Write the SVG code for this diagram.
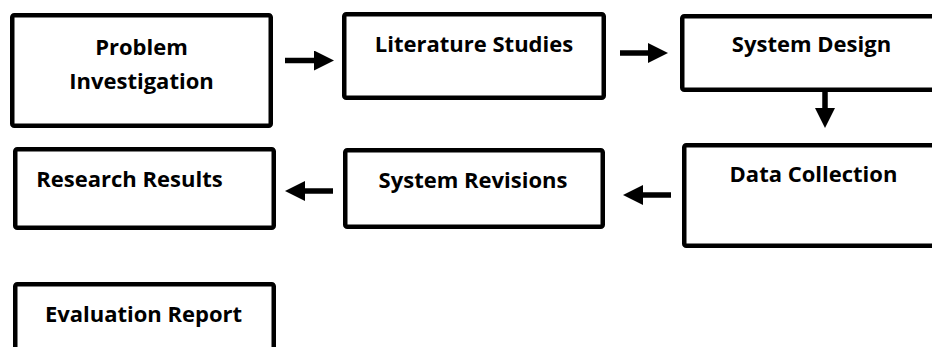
<svg xmlns="http://www.w3.org/2000/svg" width="932" height="347" viewBox="0 0 932 347">
<style>
.box{fill:#fff;stroke:#000;stroke-width:4.5;}
.lbl{font-family:"Open Sans","Liberation Sans",sans-serif;font-weight:bold;font-size:22px;fill:#000;}
.c{text-anchor:middle;}
.arr{stroke:#000;stroke-width:5.5;fill:none;marker-end:url(#ah);}
</style>
<defs>
<marker id="ah" viewBox="0 0 20 20" markerWidth="20" markerHeight="20" markerUnits="userSpaceOnUse" refX="0" refY="10" orient="auto">
<path d="M0,0 L20,10 L0,20 z" fill="#000"/>
</marker>
</defs>
<rect width="932" height="347" fill="#fff"/>
<g id="connectors">
<line class="arr" x1="285" y1="60.5" x2="314" y2="60.5"/>
<line class="arr" x1="620" y1="53" x2="648" y2="53"/>
<line class="arr" x1="825" y1="92" x2="825" y2="108"/>
<line class="arr" x1="671" y1="195" x2="643" y2="195"/>
<line class="arr" x1="333" y1="191" x2="305" y2="191"/>
</g>
<g id="problem-investigation">
<rect class="box" x="12.25" y="15.25" width="258.5" height="110.5" rx="2"/>
<text class="lbl c" x="141.5" y="54.5">Problem</text>
<text class="lbl c" x="141.5" y="89">Investigation</text>
</g>
<g id="literature-studies">
<rect class="box" x="344.25" y="14.25" width="259.5" height="83.5" rx="2"/>
<text class="lbl c" x="474" y="52">Literature Studies</text>
</g>
<g id="system-design">
<rect class="box" x="682.25" y="16.25" width="300" height="73.5" rx="2"/>
<text class="lbl c" x="811.5" y="52">System Design</text>
</g>
<g id="data-collection">
<rect class="box" x="684.25" y="145.25" width="300" height="100.5" rx="2"/>
<text class="lbl c" x="813.5" y="182">Data Collection</text>
</g>
<g id="system-revisions">
<rect class="box" x="345.25" y="150.25" width="257.5" height="76.5" rx="2"/>
<text class="lbl c" x="473" y="188">System Revisions</text>
</g>
<g id="research-results">
<rect class="box" x="15.25" y="149.25" width="258.5" height="78.5" rx="2"/>
<text class="lbl c" x="129.5" y="187">Research Results</text>
</g>
<g id="evaluation-report">
<rect class="box" x="15.25" y="284.25" width="258.5" height="100" rx="2"/>
<text class="lbl c" x="143.5" y="322">Evaluation Report</text>
</g>
</svg>
